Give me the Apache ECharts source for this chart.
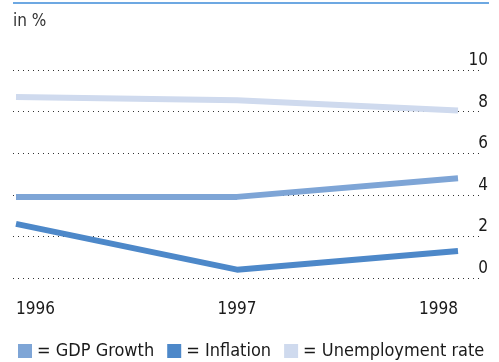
<!DOCTYPE html>
<html>
<head>
<meta charset="utf-8">
<script src="https://cdn.jsdelivr.net/npm/echarts@6/dist/echarts.min.js"></script>
<style>html,body{margin:0;padding:0;background:#fff}#c{width:499px;height:362px}</style>
</head>
<body>
<div id="c"></div>
<script>
const years = ['1996', '1997', '1998'];
const gdpGrowth = [3.9, 3.9, 4.8];
const inflation = [2.6, 0.4, 1.3];
const unemployment = [8.7, 8.55, 8.05];
const yTicks = [0, 2, 4, 6, 8, 10];

const FONT = 'DejaVu Sans Condensed';
const TXT = '#1a1a1a';
const chart = echarts.init(document.getElementById('c'), null, {renderer: 'canvas'});
chart.setOption({
  animation: false,
  textStyle: {fontFamily: FONT},
  title: {text: 'in %', left: 8, top: 8, textStyle: {fontFamily: FONT, fontSize: 17, fontWeight: 'normal', color: '#333'}},
  graphic: [{type: 'line', shape: {x1: 13, y1: 3, x2: 489, y2: 3}, style: {stroke: '#3d8bd8', lineWidth: 1.5}}],
  legend: {
    left: 13, top: 337, icon: 'rect', itemWidth: 14, itemHeight: 14, itemGap: 13,
    textStyle: {fontFamily: FONT, fontSize: 18, color: TXT},
    formatter: n => '= ' + n,
    data: ['GDP Growth', 'Inflation', 'Unemployment rate']
  },
  grid: [
    {left: 13, right: 16, top: 70, bottom: 84},
    {left: 16, right: 41, top: 70, bottom: 84}
  ],
  xAxis: [
    {gridIndex: 0, type: 'category', data: years, show: false},
    {gridIndex: 1, type: 'category', data: years, boundaryGap: false,
     axisLine: {show: false}, axisTick: {show: false}, splitLine: {show: false},
     axisLabel: {margin: 23, fontSize: 17, color: TXT, fontFamily: FONT, alignMinLabel: 'left', alignMaxLabel: 'right'}}
  ],
  yAxis: [
    {gridIndex: 0, type: 'value', position: 'right', min: 0, max: 10, interval: 2,
     axisLine: {show: false}, axisTick: {show: false},
     splitLine: {show: true, lineStyle: {color: '#333', width: 1, type: [1, 4]}},
     axisLabel: {inside: false, margin: 5, align: 'right', verticalAlign: 'bottom', padding: [0, 0, 1, 0],
       fontSize: 17, color: TXT, fontFamily: FONT,
       formatter: v => yTicks.includes(v) ? String(v) : ''}},
    {gridIndex: 1, type: 'value', min: 0, max: 10, interval: 2, show: false}
  ],
  series: [
    {name: 'Unemployment rate', type: 'line', xAxisIndex: 1, yAxisIndex: 1, data: unemployment, symbol: 'none',
     itemStyle: {color: '#cfdaee'}, lineStyle: {color: '#cfdaee', width: 6}},
    {name: 'GDP Growth', type: 'line', xAxisIndex: 1, yAxisIndex: 1, data: gdpGrowth, symbol: 'none',
     itemStyle: {color: '#7ea5d6'}, lineStyle: {color: '#7ea5d6', width: 6}},
    {name: 'Inflation', type: 'line', xAxisIndex: 1, yAxisIndex: 1, data: inflation, symbol: 'none',
     itemStyle: {color: '#4d88c9'}, lineStyle: {color: '#4d88c9', width: 6}}
  ]
});
</script>
</body>
</html>
